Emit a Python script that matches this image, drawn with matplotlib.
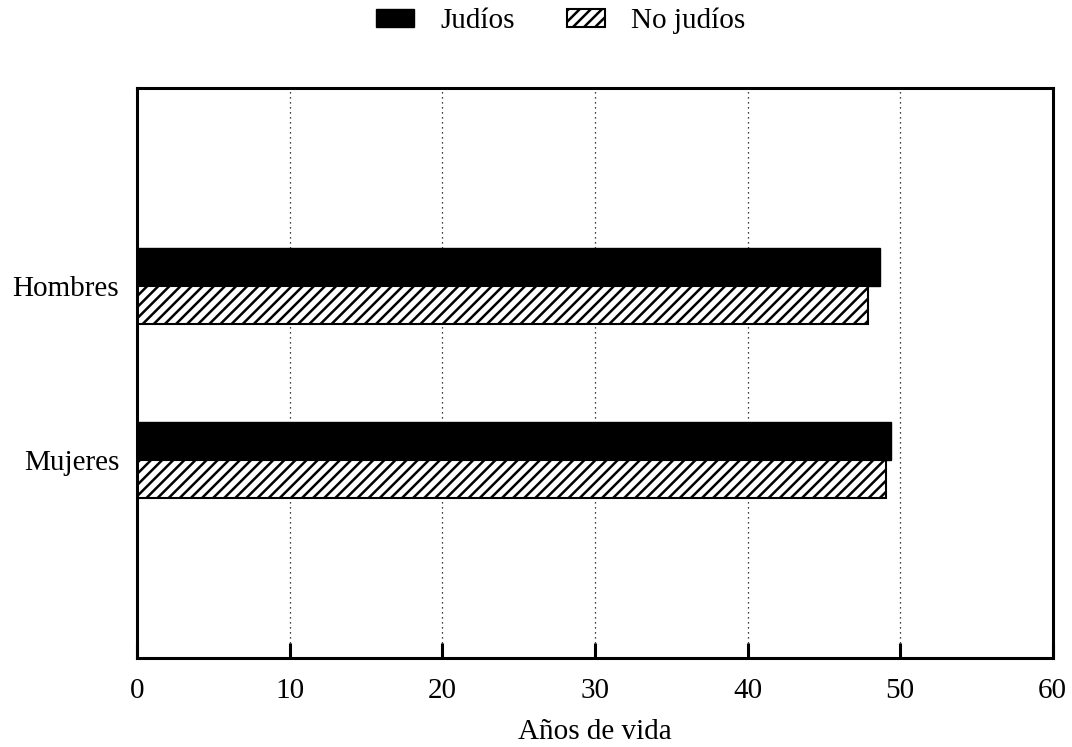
import matplotlib.pyplot as plt
import numpy as np

# Datos
categorias = ["Mujeres", "Hombres"]
judios = [49.4, 48.7]
no_judios = [49.1, 47.9]
xticks = [0, 10, 20, 30, 40, 50, 60]

plt.rcParams['font.family'] = ['Liberation Serif', 'DejaVu Serif']
plt.rcParams['hatch.linewidth'] = 1.8

fig = plt.figure(figsize=(10.72, 7.47), dpi=100)
ax = fig.add_axes([0.128, 0.119, 0.854, 0.763])

y = np.arange(len(categorias))
h = 0.22
ax.barh(y + h / 2, judios, height=h, color='black', edgecolor='black', label="Judíos")
ax.barh(y - h / 2, no_judios, height=h, color='white', edgecolor='black',
        hatch='///', linewidth=1.5, label="No judíos")

ax.set_xlim(0, 60)
ax.set_ylim(-1.14, 2.14)
ax.set_yticks(y)
ax.set_yticklabels(categorias, fontsize=21)
ax.set_xticks(xticks)
ax.set_xticklabels([str(t) for t in xticks], fontsize=21)
ax.tick_params(axis='y', length=0, pad=13)
ax.tick_params(axis='x', direction='in', length=11, width=2.2, pad=14)

# rejilla punteada
for t in xticks[1:-1]:
    ax.axvline(t, color='black', linestyle=(0, (1, 3)), linewidth=0.9, zorder=0)

for s in ax.spines.values():
    s.set_linewidth(2.2)

ax.set_xlabel("Años de vida", fontsize=21, labelpad=11)

fig.legend(loc='upper center', bbox_to_anchor=(0.523, 1.025), ncol=2, frameon=False,
           fontsize=21, handlelength=1.3, handleheight=0.55, columnspacing=1.8,
           handletextpad=0.9)

fig.savefig("out.png", dpi=100)
